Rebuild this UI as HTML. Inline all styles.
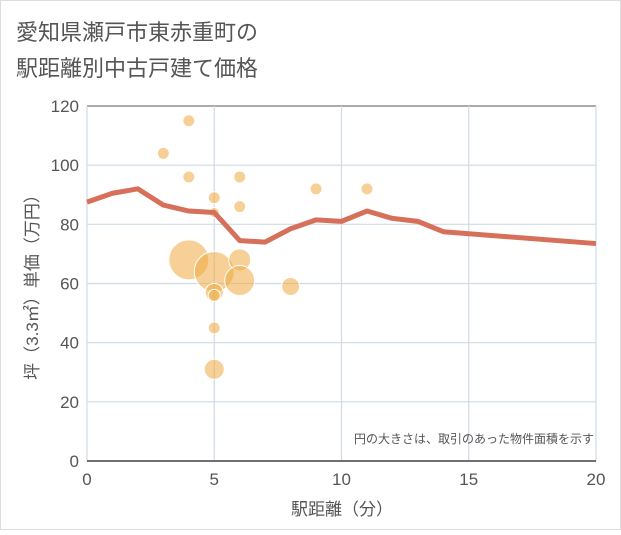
<!DOCTYPE html>
<html><head><meta charset="utf-8"><style>
body{margin:0;background:#fff;}
svg text{font-family:"Liberation Sans","Noto Sans CJK JP",sans-serif;}
</style></head><body>
<svg width="621" height="530" xmlns="http://www.w3.org/2000/svg">
<rect x="0.5" y="0.5" width="620" height="529" fill="#fff" stroke="#ddd"/>
<text x="16" y="40" font-size="22" fill="#555">愛知県瀬戸市東赤重町の</text>
<text x="16" y="76" font-size="22" fill="#555">駅距離別中古戸建て価格</text>
<g id="grid"></g>
<g id="bubbles"></g>
<g id="line"></g>
<g id="axes"></g>
<text x="342" y="515" font-size="17" fill="#555" text-anchor="middle">駅距離（分）</text>
<text transform="translate(38,283) rotate(-90)" font-size="17" fill="#555" text-anchor="middle">坪（3.3㎡）単価（万円）</text>
<text x="594" y="443" font-size="12" fill="#555" text-anchor="end">円の大きさは、取引のあった物件面積を示す</text>
</svg>
<script>
const xTicks=[0,5,10,15,20];
const yTicks=[0,20,40,60,80,100,120];
const lineX=[0,1,2,3,4,5,6,7,8,9,10,11,12,13,14,20];
const lineY=[87.5,90.5,92,86.5,84.5,84,74.5,74,78.5,81.5,81,84.5,82,81,77.5,73.5];
const bubX=[4,3,4,5,6,9,11,5,6,4,5,6,6,5,5,8,5,5];
const bubY=[115,104,96,89,96,92,92,84,86,68,64,68,61,57,56,59,45,31];
const bubR=[6,6,6,6,6,6,6,5,6,20,20,11,15,9,6,9,6,10];
const L=87,R=596,T=106,B=461;
const sx=v=>L+(v-0)/20*(R-L);
const sy=v=>B-(v-0)/120*(B-T);
const NS="http://www.w3.org/2000/svg";
function mk(t,a,p){const e=document.createElementNS(NS,t);for(const k in a)e.setAttribute(k,a[k]);p.appendChild(e);return e;}
const g=document.getElementById('grid'),ax=document.getElementById('axes');
yTicks.forEach(v=>{
 const l=mk('line',{x1:L,x2:R,y1:sy(v),y2:sy(v),stroke:v===120?'#aaa':'#cfdbe6','stroke-width':v===120?2:1.2},g);
 
 
 const t=mk('text',{x:L-8,y:sy(v)+6,'font-size':17,fill:'#555','text-anchor':'end'},ax);t.textContent=v;
 
 
});
xTicks.forEach(v=>{
 const l=mk('line',{x1:sx(v),x2:sx(v),y1:T,y2:B,stroke:'#cfdbe6','stroke-width':1.2},g);
 
 
 const t=mk('text',{x:sx(v),y:B+24,'font-size':17,fill:'#555','text-anchor':'middle'},ax);t.textContent=v;
 
 
});
const bl=mk('line',{x1:L,x2:R,y1:B,y2:B,stroke:'#444','stroke-width':1.5},ax);


const bg=document.getElementById('bubbles');
bubX.forEach((x,i)=>{
 const c=mk('circle',{cx:sx(x),cy:sy(bubY[i]),r:bubR[i],fill:'#eeaa40','fill-opacity':0.55,stroke:'#fff','stroke-width':1},bg);
 
 
});
const p=mk('polyline',{points:lineX.map((x,i)=>sx(x)+','+sy(lineY[i])).join(' '),fill:'none',stroke:'#d6705a','stroke-width':5,'stroke-linejoin':'round'},document.getElementById('line'));


</script>
</body></html>
